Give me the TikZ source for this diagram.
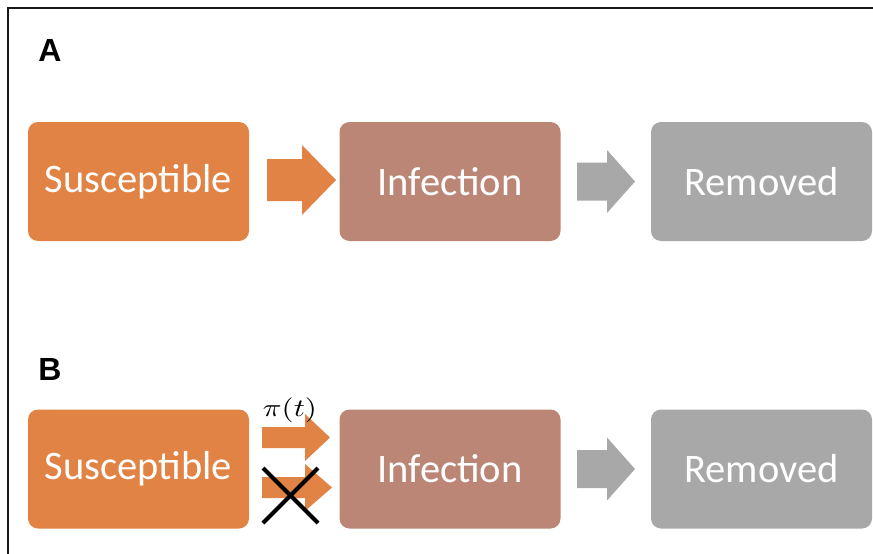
\documentclass[tikz,border=0pt]{standalone}
\usepackage{fontspec}
\setmainfont{Carlito}
\newfontfamily\labelfont{Liberation Sans}
\definecolor{orangeC}{HTML}{E08344}
\definecolor{brownC}{HTML}{BC8676}
\definecolor{grayC}{HTML}{A8A8A8}
\tikzset{
  box/.style={rectangle, rounded corners=10pt, minimum width=221pt, minimum height=119pt,
    inner sep=0pt, text=white, font=\fontsize{40.5}{46}\selectfont},
  panel/.style={font=\labelfont\bfseries\fontsize{32}{36}\selectfont, inner sep=0pt},
  frame/.style={line width=2pt, draw=black!90}
}
\begin{document}
\begin{tikzpicture}[x=1pt,y=-1pt]
\useasboundingbox (0,0) rectangle (873,554);
\fill[white] (0,0) rectangle (873,554);
% frame (right and bottom edges lie outside the picture)
\draw[frame] (8,554) -- (8,8) -- (873,8);

% panel labels
\node[panel] (labA) at (50,50) {A};
\node[panel] (labB) at (50,369) {B};

% Row A
\node[box, fill=orangeC] (sA) at (138.5,181.5) {Susceptible};
\node[box, fill=brownC]  (iA) at (450,181.5) {Infection};
\node[box, fill=grayC]   (rA) at (761.5,181.5) {Removed};
\fill[orangeC] (267,159) -- (302,159) -- (302,145) -- (336,180) -- (302,215) -- (302,201) -- (267,201) -- cycle;
\fill[grayC] (577,162.5) -- (607,162.5) -- (607,150) -- (635,181.5) -- (607,213) -- (607,200.5) -- (577,200.5) -- cycle;

% Row B
\node[box, fill=orangeC] (sB) at (138.5,469) {Susceptible};
\node[box, fill=brownC]  (iB) at (450,469) {Infection};
\node[box, fill=grayC]   (rB) at (761.5,469) {Removed};
\fill[orangeC] (262,427) -- (305,427) -- (305,414) -- (330,437.5) -- (305,461) -- (305,448) -- (262,448) -- cycle;
\fill[orangeC] (262,477) -- (305,477) -- (305,464) -- (332,487.5) -- (305,511) -- (305,498) -- (262,498) -- cycle;
\draw[line width=4pt] (263,468) -- (318,523);
\draw[line width=4pt] (318,468) -- (263,523);
\node[inner sep=0pt] (pi) at (290,410) {\scalebox{3.1}[2.5]{$\pi(t)$}};
\fill[grayC] (577,450) -- (607,450) -- (607,437.5) -- (635,469) -- (607,500.5) -- (607,488) -- (577,488) -- cycle;
\end{tikzpicture}
\end{document}
